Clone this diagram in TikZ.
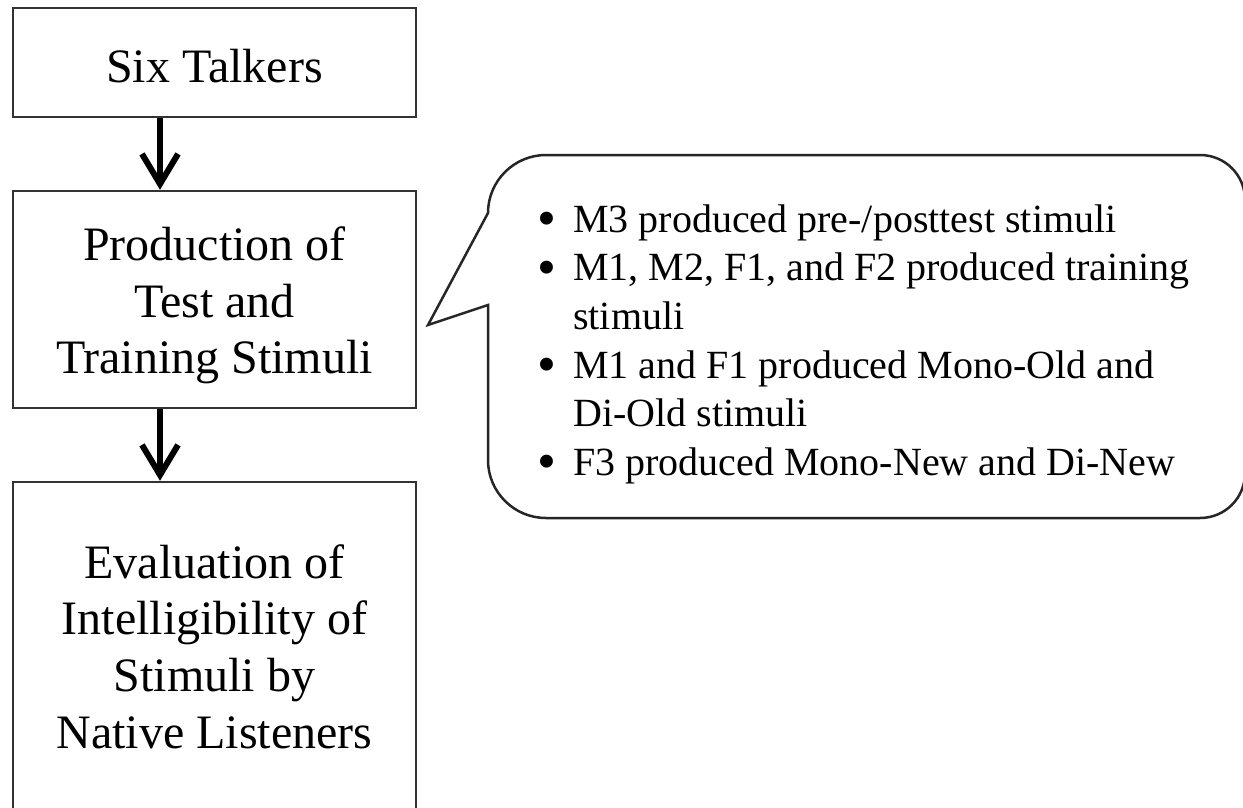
\documentclass[tikz,border=0pt]{standalone}
\usepackage{fontspec}
\setmainfont{Liberation Serif}
\usetikzlibrary{arrows.meta}
\newcommand{\bigdot}{{\fontsize{54}{48.6}\selectfont\raisebox{-4.5pt}{\textbullet}}}
\begin{document}
\begin{tikzpicture}[x=1pt,y=-1pt,
  box/.style={draw=black!80, line width=2.5pt, minimum width=403pt, inner sep=0pt},
  boxtext/.style={font=\fontsize{48}{56.5}\selectfont, align=center, inner sep=0pt},
  flow/.style={line width=6pt, -{Straight Barb[length=30pt,width=36pt]}},
  callout/.style={draw=black!85, line width=2.5pt, line join=miter},
  bullettext/.style={font=\fontsize{40}{48.6}\selectfont, inner sep=0pt, anchor=north west}
]
\useasboundingbox (0,0) rectangle (1243,807);
\fill[white] (0,0) rectangle (1243,807);
% boxes
\node[box, minimum height=109pt] (b1) at (214.5,62.5) {};
\node[box, minimum height=217pt] (b2) at (214.5,299.5) {};
\node[box, minimum height=360pt] (b3) at (214.5,662) {};
% box texts
\node[boxtext] (t1) at (214.5,65.6) {Six Talkers};
\node[boxtext] (t2) at (214.5,305.3) {Production of\\Test and\\Training Stimuli};
\node[boxtext, font=\fontsize{48}{56.7}\selectfont] (t3) at (214.5,646.6) {Evaluation of\\Intelligibility of\\Stimuli by\\Native Listeners};
% arrows
\draw[flow] ([xshift=-54.5pt]b1.south) -- ([xshift=-54.5pt]b2.north);
\draw[flow] ([xshift=-54.5pt]b2.south) -- ([xshift=-54.5pt]b3.north);
% callout
\draw[callout] (428,325) coordinate (tip) -- (488,213)
  .. controls (488,181) and (514,155) .. (546,155) -- (1200,155)
  .. controls (1225,155) and (1245,175) .. (1245,200) -- (1245,473)
  .. controls (1245,498) and (1225,518) .. (1200,518) -- (546,518)
  .. controls (514,518) and (488,492) .. (488,460) -- (488,305) -- cycle;
\node[bullettext] (notes) at (537,198) {%
  \renewcommand{\arraystretch}{1}%
  \begin{tabular}{@{}p{36pt}@{}l@{}}
  \bigdot & M3 produced pre-/posttest stimuli\\
  \bigdot & M1, M2, F1, and F2 produced training\\
   & stimuli\\
  \bigdot & M1 and F1 produced Mono-Old and\\
   & Di-Old stimuli\\
  \bigdot & F3 produced Mono-New and Di-New
  \end{tabular}};
\end{tikzpicture}
\end{document}
